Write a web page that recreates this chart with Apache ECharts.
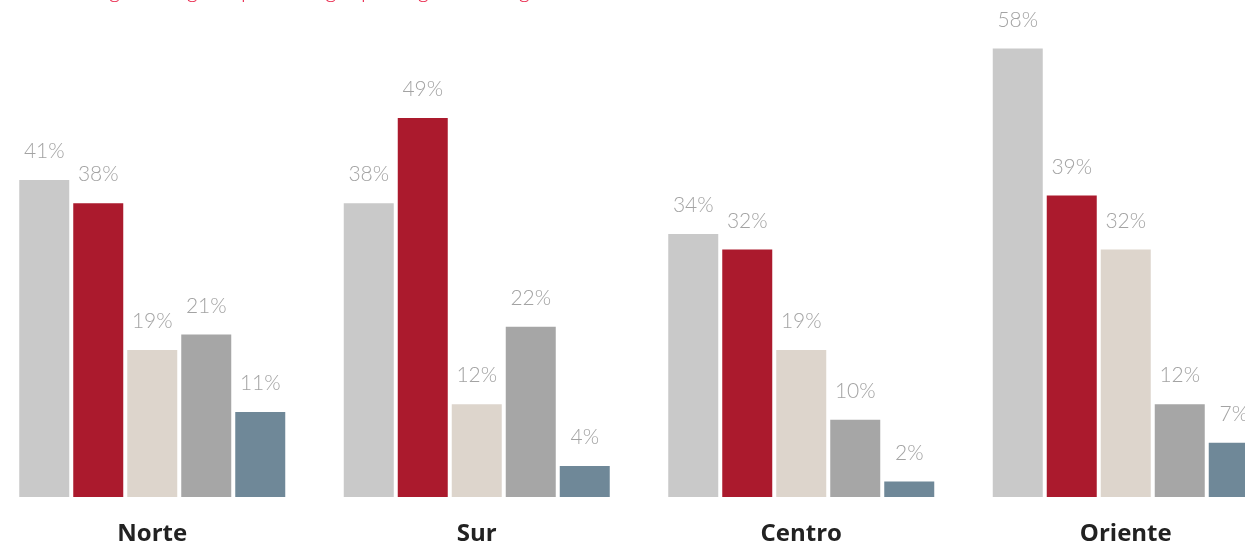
<!DOCTYPE html>
<html>
<head>
<meta charset="utf-8">
<script src="https://cdn.jsdelivr.net/npm/echarts@6/dist/echarts.min.js"></script>
<style>
  html, body { margin: 0; padding: 0; background: #fff; overflow: hidden; }
  #wrap { width: 1245px; height: 546px; overflow: hidden; position: relative; }
  /* el gráfico se sale un poco por los lados */
  #chart { width: 1298px; height: 546px; position: absolute; left: -10px; top: 0; }
</style>
</head>
<body>
<div id="wrap"><div id="chart"></div></div>
<script>
// datos
const regiones = ['Norte', 'Sur', 'Centro', 'Oriente']
const serie1 = [41, 38, 34, 58]
const serie2 = [38, 49, 32, 39]
const serie3 = [19, 12, 19, 32]
const serie4 = [21, 22, 10, 12]
const serie5 = [11, 4, 2, 7]
const colores = ['#c9c9c9', '#ab1a2d', '#ddd5cc', '#a6a6a6', '#6f8898']

const myChart = echarts.init(document.getElementById('chart'))

const mkSerie = (data, i) => ({
  type: 'bar',
  data: data,
  barWidth: 50,
  barGap: '8%',
  itemStyle: { color: colores[i] },
  //etiqueta encima
  label: {
    show: true,
    position: 'top',
    distance: 18,
    formatter: '{c}%',
    color: '#a3a3a3',
    fontSize: 21,
    fontWeight: 300,
    fontFamily: 'Lato, "Open Sans", sans-serif'
  }
})

const option = {
  animation: false,
  graphic: [{
    type: 'text',
    left: 35,
    top: -20,
    style: {
      text: 'Nivel de gasto según tipo de hogar por región de origen',
      fill: '#e8173f',
      fontSize: 22,
      fontWeight: 300,
      fontFamily: 'Lato, "Open Sans", sans-serif'
    }
  }],
  grid: {
    left: 0,
    right: 0,
    top: 33,
    bottom: 46,
    containLabel: false
  },
  xAxis: {
    type: 'category',
    data: regiones,
    axisLine: { show: false },
    axisTick: { show: false },
    axisLabel: {
      margin: 25,
      color: '#222',
      fontSize: 24,
      fontWeight: 'bold',
      fontFamily: '"Open Sans", "Noto Sans", sans-serif'
    }
  },
  yAxis: {
    type: 'value',
    min: 0,
    max: 60,
    show: false,
    splitLine: { show: false }
  },
  series: [serie1, serie2, serie3, serie4, serie5].map(mkSerie)
}

option && myChart.setOption(option)
</script>
</body>
</html>
